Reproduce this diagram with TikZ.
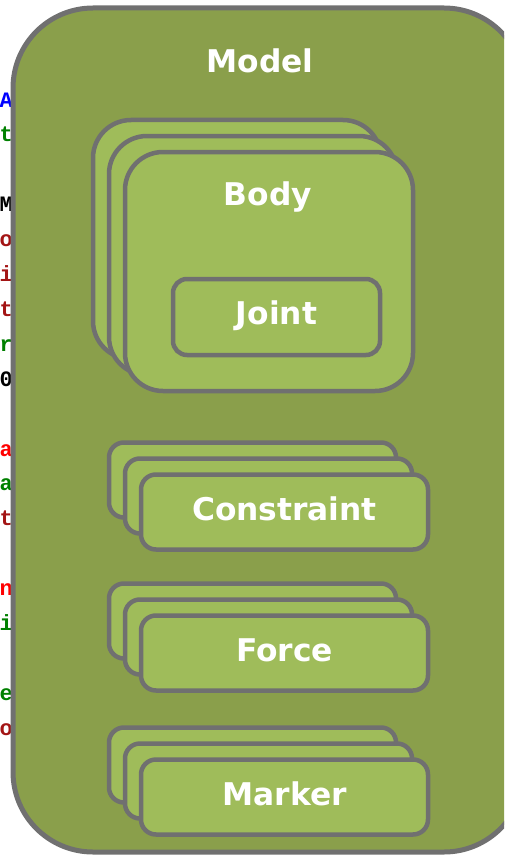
\documentclass[tikz,border=0pt]{standalone}
\usepackage{fontspec}
\setmainfont{DejaVu Sans}
\newfontfamily\codefont{Liberation Mono}
\definecolor{outerfill}{HTML}{8A9F4B}
\definecolor{innerfill}{HTML}{9FBC5A}
\definecolor{edge}{HTML}{707070}
\definecolor{kwblue}{HTML}{0000FF}
\definecolor{cmgreen}{HTML}{008000}
\definecolor{strred}{HTML}{A31515}
\definecolor{attrred}{HTML}{FF0000}
\tikzset{
  modelbox/.style={draw=edge, line width=5pt, fill=outerfill, rounded corners=80pt, inner sep=0pt},
  bodybox/.style={draw=edge, line width=4.5pt, fill=innerfill, rounded corners=38pt, inner sep=0pt,
    minimum width=288pt, minimum height=239pt},
  card/.style={draw=edge, line width=4.5pt, fill=innerfill, rounded corners=15pt, inner sep=0pt,
    minimum width=287pt, minimum height=75pt},
  jointbox/.style={draw=edge, line width=4.5pt, fill=innerfill, rounded corners=14pt, inner sep=0pt,
    minimum width=207pt, minimum height=76pt},
  lbl/.style={text=white, font=\fontsize{31.3}{37}\selectfont\bfseries, inner sep=0pt, anchor=base},
  code/.style={font=\codefont\bfseries\fontsize{22}{26}\selectfont, inner sep=0pt, anchor=base east},
}
\begin{document}
\begin{tikzpicture}[x=1pt,y=-1pt]
\useasboundingbox (0,0) rectangle (504,856);
\clip (0,0) rectangle (504,856);
% code characters peeking out at the left
\node[code, text=kwblue] (c0) at (13,107) {A};
\node[code, text=cmgreen] (c1) at (13,141.9) {t};
\node[code, text=black] (c3) at (13,211.7) {M};
\node[code, text=strred] (c4) at (13,246.6) {o};
\node[code, text=strred] (c5) at (13,281.5) {i};
\node[code, text=strred] (c6) at (13,316.4) {t};
\node[code, text=cmgreen] (c7) at (13,351.3) {r};
\node[code, text=black] (c8) at (13,386.2) {0};
\node[code, text=attrred] (c10) at (13,456) {a};
\node[code, text=cmgreen] (c11) at (13,490.9) {a};
\node[code, text=strred] (c12) at (13,525.8) {t};
\node[code, text=attrred] (c14) at (13,595.6) {n};
\node[code, text=cmgreen] (c15) at (13,630.5) {i};
\node[code, text=cmgreen] (c17) at (13,700.3) {e};
\node[code, text=strred] (c18) at (13,735.2) {o};
% model
\node[modelbox, minimum width=511pt, minimum height=844pt] (model) at (268.5,430) {};
\node[lbl] (modeltxt) at (260,73) {Model};
% body stack
\node[bodybox] (body3) at (237,239.5) {};
\node[bodybox] (body2) at (253,255.5) {};
\node[bodybox] (body) at (269,271.5) {};
\node[lbl] (bodytxt) at (268,205) {Body};
\node[jointbox] (joint) at (276.5,317) {};
\node[lbl] (jointtxt) at (276.5,324) {Joint};
% constraint stack
\node[card] (con3) at (252.5,480) {};
\node[card] (con2) at (268.5,496) {};
\node[card] (con) at (284.5,512) {};
\node[lbl] (contxt) at (284.5,520) {Constraint};
% force stack
\node[card] (for3) at (252.5,621) {};
\node[card] (for2) at (268.5,637) {};
\node[card] (for) at (284.5,653) {};
\node[lbl] (fortxt) at (284.5,661) {Force};
% marker stack
\node[card] (mar3) at (252.5,765) {};
\node[card] (mar2) at (268.5,781) {};
\node[card] (mar) at (284.5,797) {};
\node[lbl] (martxt) at (284.5,805) {Marker};
\end{tikzpicture}
\end{document}
